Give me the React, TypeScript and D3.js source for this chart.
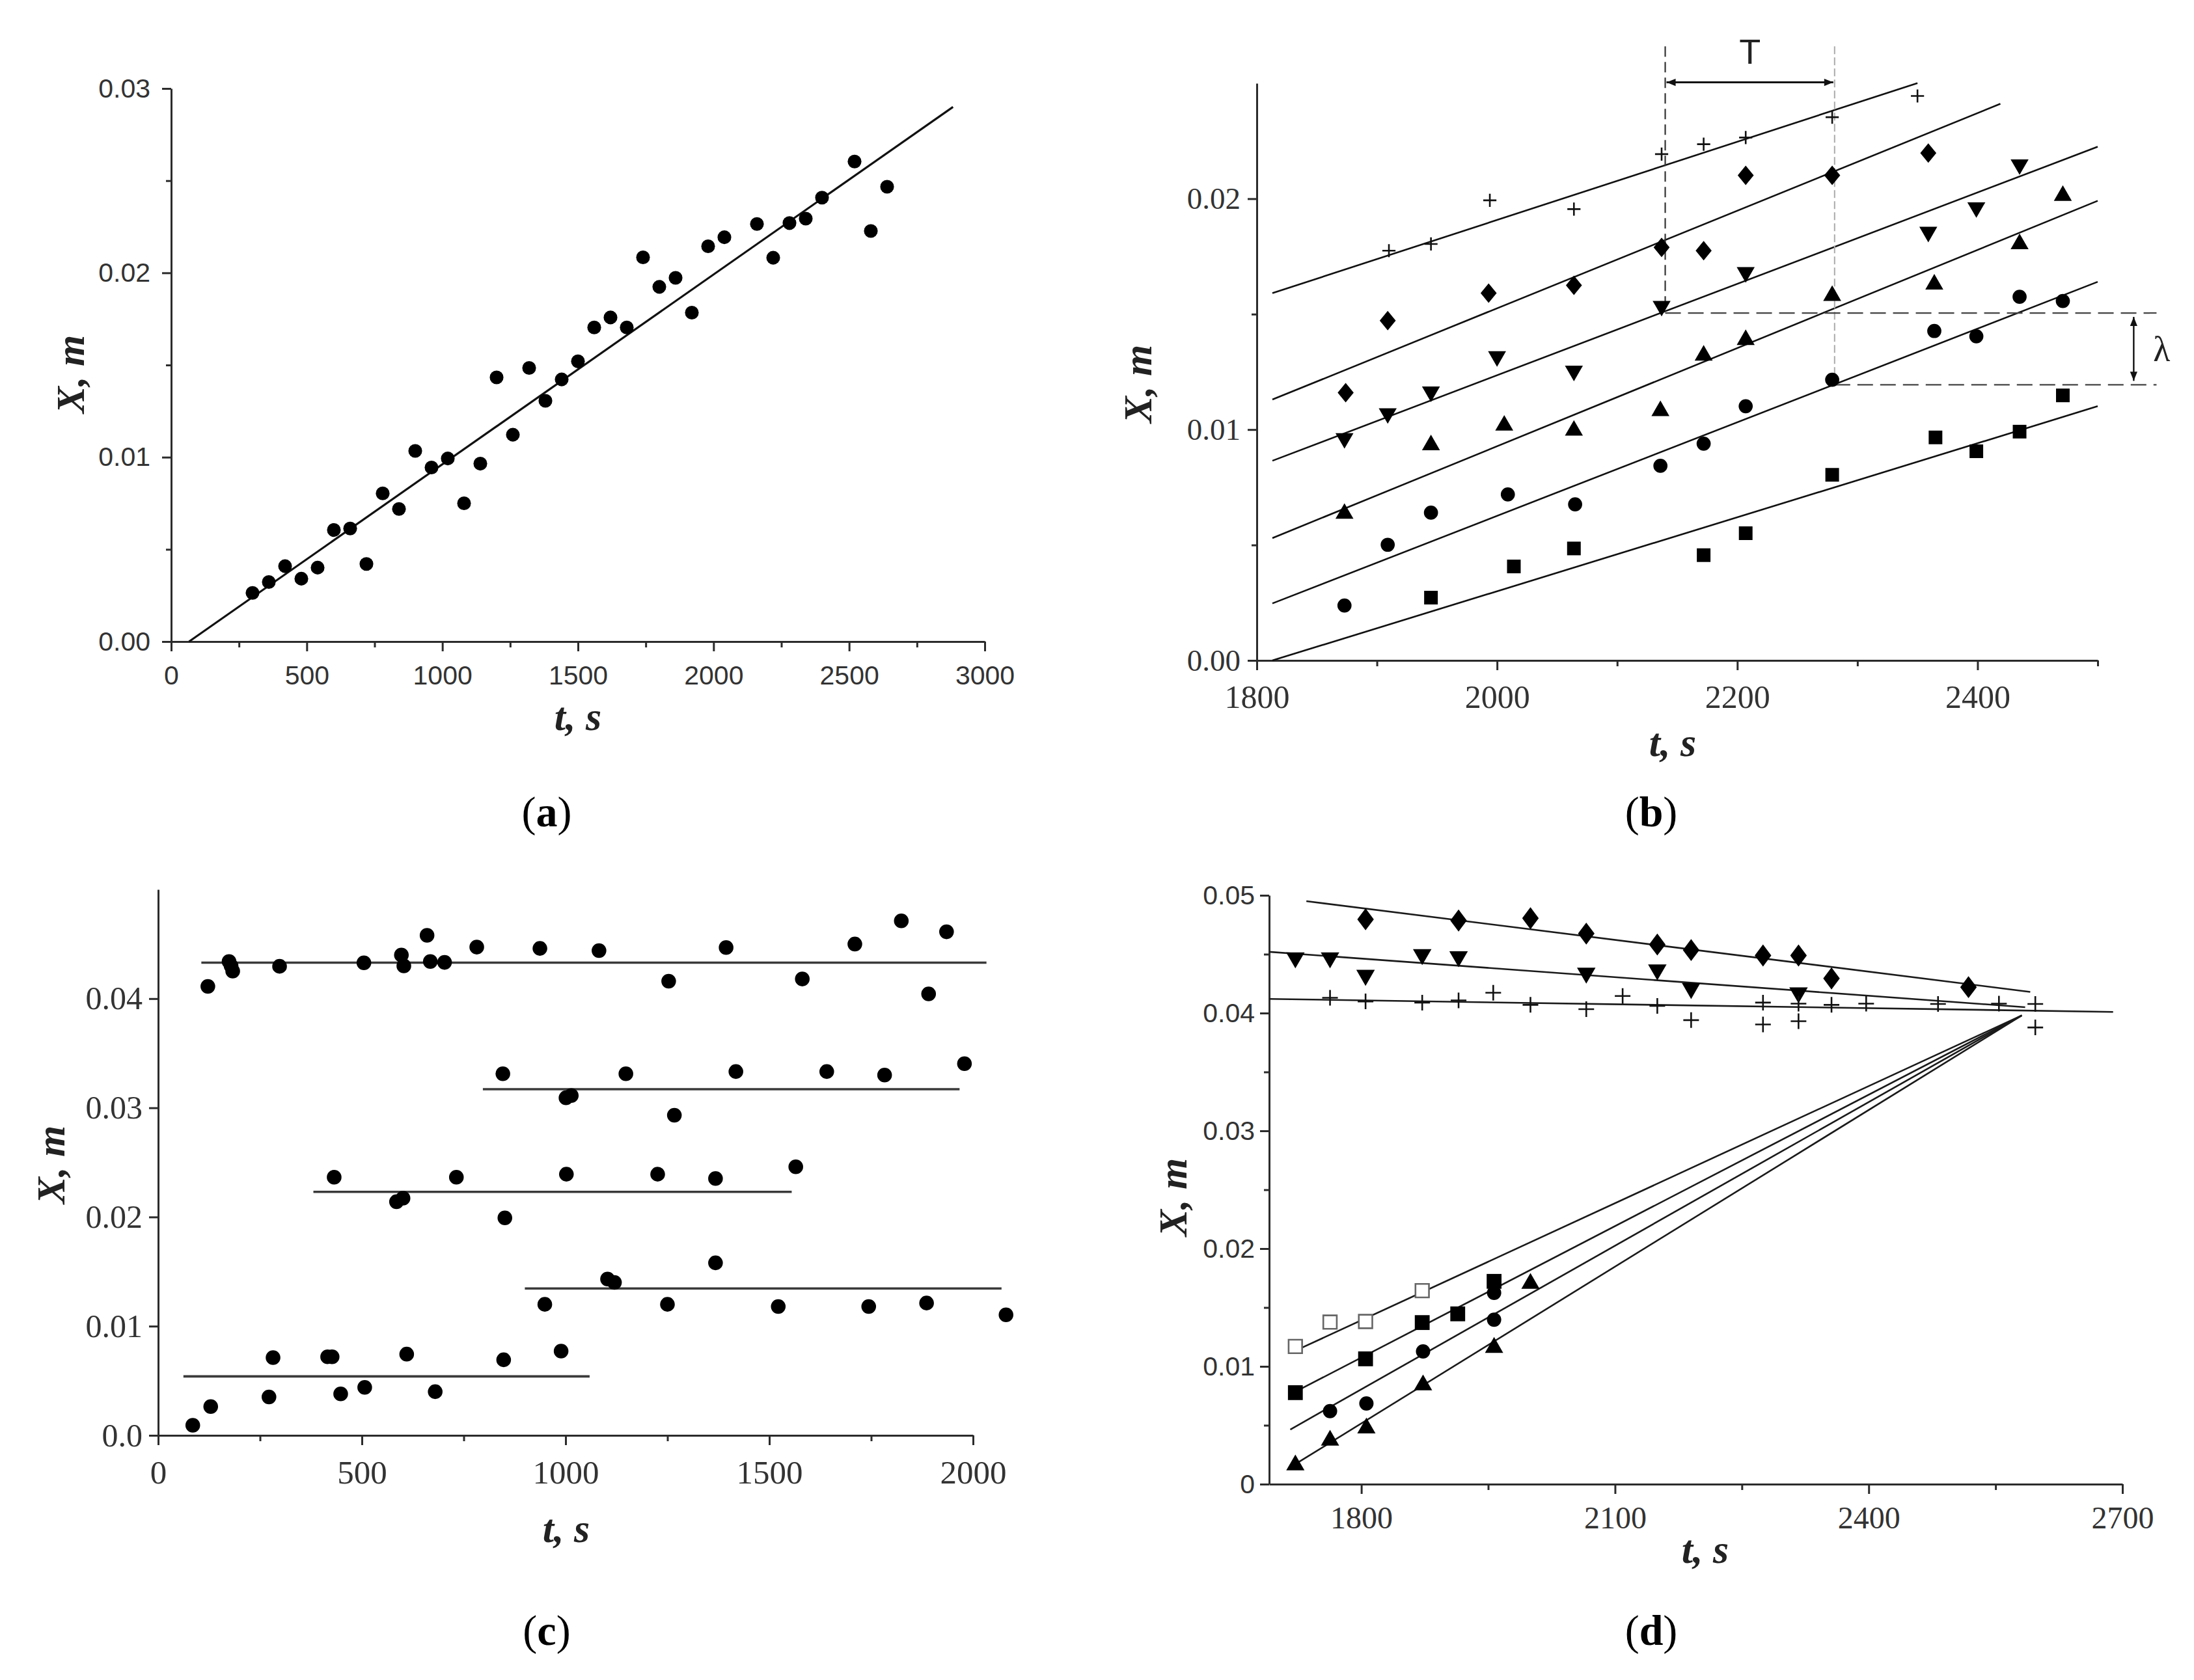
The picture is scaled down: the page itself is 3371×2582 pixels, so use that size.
import * as d3 from "d3";
import { useEffect, useRef } from "react";

const W = 3371;
const H = 2582;

// ---------- panel (a)
const aTime = [300, 360, 420, 480, 540, 600, 660, 720, 780, 840, 900, 960, 1020, 1080, 1140, 1200, 1260, 1320, 1380, 1440, 1500, 1560, 1620, 1680, 1740, 1800, 1860, 1920, 1980, 2040, 2160, 2220, 2280, 2340, 2400, 2520, 2580, 2640];
const aPos = [0.00264, 0.00323, 0.00409, 0.00341, 0.00401, 0.00605, 0.00613, 0.00421, 0.00804, 0.00719, 0.01034, 0.00944, 0.00993, 0.0075, 0.00965, 0.01433, 0.01122, 0.01484, 0.01306, 0.01422, 0.0152, 0.01704, 0.01758, 0.01704, 0.02084, 0.01924, 0.01973, 0.01784, 0.02144, 0.02193, 0.02265, 0.02082, 0.0227, 0.02294, 0.02408, 0.02604, 0.02227, 0.02467];
const aFitTime = [66, 2883];
const aFitPos = [0, 0.029];
const aXTicks = [0, 500, 1000, 1500, 2000, 2500, 3000];
const aXLabels = ["0", "500", "1000", "1500", "2000", "2500", "3000"];
const aXMinor = [250, 750, 1250, 1750, 2250, 2750];
const aYTicks = [0, 0.01, 0.02, 0.03];
const aYLabels = ["0.00", "0.01", "0.02", "0.03"];
const aYMinor = [0.005, 0.015, 0.025];

// ---------- panel (b)
const bPlusT = [1910, 1945, 1994, 2064, 2137, 2172, 2207, 2279, 2350];
const bPlusX = [0.01775, 0.01804, 0.01993, 0.01955, 0.02193, 0.02236, 0.02265, 0.02353, 0.02445];
const bDiamondT = [1874, 1909, 1993, 2064, 2137, 2172, 2207, 2279, 2359];
const bDiamondX = [0.0116, 0.01472, 0.01591, 0.01625, 0.01789, 0.01775, 0.02101, 0.02101, 0.02198];
const bDownT = [1873, 1909, 1945, 2000, 2064, 2137, 2207, 2359, 2399, 2435];
const bDownX = [0.00962, 0.0107, 0.01164, 0.01317, 0.01254, 0.01535, 0.01681, 0.01856, 0.01962, 0.02148];
const bUpT = [1873, 1945, 2006, 2064, 2136, 2172, 2207, 2279, 2364, 2435, 2471];
const bUpX = [0.00636, 0.00933, 0.01018, 0.00996, 0.01081, 0.01321, 0.01389, 0.0158, 0.01629, 0.01804, 0.02013];
const bCircleT = [1873, 1909, 1945, 2009, 2065, 2136, 2172, 2207, 2279, 2364, 2399, 2435, 2471];
const bCircleX = [0.00238, 0.00501, 0.0064, 0.00719, 0.00676, 0.00843, 0.00939, 0.01101, 0.01216, 0.01427, 0.01404, 0.01575, 0.01557];
const bSquareT = [1945, 2014, 2064, 2172, 2207, 2279, 2365, 2399, 2435, 2471];
const bSquareX = [0.00272, 0.00407, 0.00485, 0.00456, 0.00551, 0.00804, 0.00966, 0.00906, 0.00991, 0.01148];
const bFitT = [[1813, 2350], [1813, 2419], [1813, 2500], [1813, 2500], [1813, 2500], [1813, 2500]];
const bFitX = [[0.01591, 0.02501], [0.0113, 0.02411], [0.00865, 0.02225], [0.0053, 0.01991], [0.00247, 0.0164], [0, 0.01101]];
const bXTicks = [1800, 2000, 2200, 2400];
const bXLabels = ["1800", "2000", "2200", "2400"];
const bXMinor = [1900, 2100, 2300, 2500];
const bYTicks = [0, 0.01, 0.02];
const bYLabels = ["0.00", "0.01", "0.02"];
const bYMinor = [0.005, 0.015];
// period T and wavelength lambda marks
const bPeriodT = [2140, 2281];
const bPeriodTop = 0.0266;
const bPeriodArrow = 0.02504;
const bPeriodFoot = [0.0151, 0.012];
const bLambdaX = [0.01505, 0.01194];
const bLambdaT = 2530;
const bDashEnd = 2549;

// ---------- panel (c)
const cGroupT = [
  [122, 174, 179, 183, 298, 505, 597, 603, 660, 668, 703, 782, 937, 1082, 1253, 1394, 1581, 1710, 1824, 1891, 1935],
  [846, 1001, 1014, 1148, 1267, 1418, 1641, 1783, 1979],
  [432, 585, 601, 732, 851, 1002, 1226, 1368, 1565],
  [949, 1103, 1120, 1250, 1368, 1522, 1744, 1886, 2081],
  [85, 129, 272, 282, 416, 427, 448, 507, 610, 680, 848, 989],
];
const cGroupX = [
  [0.04112, 0.0434, 0.043, 0.04252, 0.04296, 0.04328, 0.044, 0.043, 0.0458, 0.0434, 0.04332, 0.04472, 0.0446, 0.0444, 0.0416, 0.04468, 0.0418, 0.045, 0.04712, 0.04044, 0.04612],
  [0.03312, 0.03092, 0.03112, 0.03312, 0.02932, 0.03332, 0.03332, 0.033, 0.03404],
  [0.02364, 0.0214, 0.02172, 0.02364, 0.01992, 0.02392, 0.02392, 0.02352, 0.0246],
  [0.012, 0.01432, 0.014, 0.012, 0.0158, 0.0118, 0.0118, 0.01212, 0.01104],
  [0.00092, 0.00264, 0.00352, 0.00712, 0.0072, 0.0072, 0.0038, 0.0044, 0.00744, 0.004, 0.00692, 0.00772],
];
const cLevelT = [[106, 2033], [797, 1967], [381, 1555], [900, 2070], [62, 1059]];
const cLevelX = [0.0433, 0.0317, 0.0223, 0.01345, 0.0054];
const cXTicks = [0, 500, 1000, 1500, 2000];
const cXLabels = ["0", "500", "1000", "1500", "2000"];
const cXMinor = [250, 750, 1250, 1750];
const cYTicks = [0, 0.01, 0.02, 0.03, 0.04];
const cYLabels = ["0.0", "0.01", "0.02", "0.03", "0.04"];

// ---------- panel (d)
const dDiamondT = [1805, 1915, 2000, 2066, 2150, 2190, 2275, 2317, 2356, 2518];
const dDiamondX = [0.04796, 0.04786, 0.04805, 0.04675, 0.04582, 0.04535, 0.04489, 0.04489, 0.04294, 0.0422];
const dDownT = [1722, 1763, 1805, 1872, 1915, 2066, 2150, 2190, 2317];
const dDownX = [0.0447, 0.0447, 0.04322, 0.04498, 0.0448, 0.0434, 0.04368, 0.0421, 0.04173];
const dPlusT = [1763, 1805, 1872, 1915, 1956, 2000, 2066, 2109, 2150, 2190, 2275, 2275, 2317, 2317, 2356, 2397, 2482, 2554, 2597, 2597];
const dPlusX = [0.0413, 0.04099, 0.04089, 0.04108, 0.04173, 0.0407, 0.04033, 0.04145, 0.04061, 0.0394, 0.04089, 0.03903, 0.0408, 0.03931, 0.0407, 0.0408, 0.04077, 0.0408, 0.04077, 0.03878];
const dOpenT = [1722, 1763, 1805, 1872];
const dOpenX = [0.01169, 0.01376, 0.01381, 0.01643];
const dSquareT = [1722, 1805, 1872, 1914, 1957];
const dSquareX = [0.00777, 0.01064, 0.01372, 0.01446, 0.01722];
const dCircleT = [1763, 1806, 1873, 1957, 1957];
const dCircleX = [0.0062, 0.00685, 0.01127, 0.01396, 0.01624];
const dUpT = [1722, 1763, 1806, 1873, 1957, 2000];
const dUpX = [0.00162, 0.00372, 0.00475, 0.00842, 0.0116, 0.01704];
const dFitT = [[1735, 2591], [1691, 2585], [1691, 2689], [1722, 2581], [1728, 2581], [1716, 2581], [1722, 2581]];
const dFitX = [[0.0495, 0.0418], [0.0452, 0.0405], [0.0412, 0.0401], [0.01133, 0.0398], [0.00807, 0.0398], [0.00464, 0.0398], [0.0017, 0.0398]];
const dXTicks = [1800, 2100, 2400, 2700];
const dXLabels = ["1800", "2100", "2400", "2700"];
const dXMinor = [1950, 2250, 2550];
const dYTicks = [0, 0.01, 0.02, 0.03, 0.04, 0.05];
const dYLabels = ["0", "0.01", "0.02", "0.03", "0.04", "0.05"];
const dYMinor = [0.005, 0.015, 0.025, 0.035, 0.045];

const captions = ["a", "b", "c", "d"];

const SERIF = "'Liberation Serif','Times New Roman',serif";
const SANS = "'Liberation Sans',Arial,sans-serif";

// diamond marker, a bit taller than wide like the original ones
function makeDiamond(ratio: number) {
  return {
    draw(ctx: any, size: number) {
      const h = Math.sqrt(size / (2 * ratio));
      const w = h * ratio;
      ctx.moveTo(0, -h);
      ctx.lineTo(w, 0);
      ctx.lineTo(0, h);
      ctx.lineTo(-w, 0);
      ctx.closePath();
    },
  };
}

function axes(g: any, x: any, y: any, o: any) {
  const bottom = y.range()[0];
  const left = x.range()[0];
  const gx = g.append("g").attr("transform", `translate(0,${bottom})`)
    .call(d3.axisBottom(x).tickValues(o.xTicks).tickFormat((_: any, i: number) => o.xLabels[i])
      .tickSizeInner(15).tickSizeOuter(0).tickPadding(o.xPad));
  const gy = g.append("g").attr("transform", `translate(${left},0)`)
    .call(d3.axisLeft(y).tickValues(o.yTicks).tickFormat((_: any, i: number) => o.yLabels[i])
      .tickSizeInner(14).tickSizeOuter(0).tickPadding(o.yPad));
  if (o.xMinor) {
    g.append("g").attr("transform", `translate(0,${bottom})`)
      .call(d3.axisBottom(x).tickValues(o.xMinor).tickFormat(() => "").tickSizeInner(9).tickSizeOuter(0))
      .call((s: any) => s.select(".domain").remove());
  }
  if (o.yMinor) {
    g.append("g").attr("transform", `translate(${left},0)`)
      .call(d3.axisLeft(y).tickValues(o.yMinor).tickFormat(() => "").tickSizeInner(8).tickSizeOuter(0))
      .call((s: any) => s.select(".domain").remove());
  }
  g.selectAll(".domain, .tick line").attr("stroke", "#2b2b2b").attr("stroke-width", 3);
  gx.selectAll("text").attr("font-family", o.xFont).attr("font-size", o.xSize).attr("fill", "#333");
  gy.selectAll("text").attr("font-family", o.yFont).attr("font-size", o.ySize).attr("fill", "#333");
}

function titles(g: any, tPos: number[], xPos: number[]) {
  g.append("text").attr("x", tPos[0]).attr("y", tPos[1]).attr("dy", "0.35em")
    .attr("text-anchor", "middle").attr("font-family", SERIF).attr("font-size", 62)
    .attr("font-weight", "bold").attr("font-style", "italic").attr("fill", "#222").text("t, s");
  g.append("text").attr("transform", `translate(${xPos[0]},${xPos[1]}) rotate(-90)`).attr("dy", "0.35em")
    .attr("text-anchor", "middle").attr("font-family", SERIF).attr("font-size", 62)
    .attr("font-weight", "bold").attr("font-style", "italic").attr("fill", "#222").text("X, m");
}

function fitLine(g: any, x: any, y: any, ts: number[], xs: number[], stroke: string, sw: number) {
  g.append("path").datum(d3.zip(ts, xs))
    .attr("d", d3.line().x((d: any) => x(d[0])).y((d: any) => y(d[1])))
    .attr("fill", "none").attr("stroke", stroke).attr("stroke-width", sw);
}

function scatter(g: any, x: any, y: any, ts: number[], xs: number[], type: any, size: number, o: any = {}) {
  const sym = d3.symbol().type(type).size(size);
  g.append("g").selectAll("path").data(d3.zip(ts, xs)).join("path")
    .attr("d", () => sym())
    .attr("transform", (d: any) => `translate(${x(d[0])},${y(d[1])})${o.flip ? " rotate(180)" : ""}`)
    .attr("fill", o.fill ?? "#000")
    .attr("stroke", o.stroke ?? "none")
    .attr("stroke-width", o.sw ?? 0);
}

function caption(svg: any, cx: number, cy: number, letter: string) {
  const t = svg.append("text").attr("x", cx).attr("y", cy).attr("text-anchor", "middle")
    .attr("font-family", SERIF).attr("font-size", 66).attr("fill", "#000");
  t.append("tspan").text("(");
  t.append("tspan").attr("font-weight", "bold").text(letter);
  t.append("tspan").text(")");
}

export default function App() {
  const ref = useRef<SVGSVGElement>(null);

  useEffect(() => {
    const svg = d3.select(ref.current);
    svg.selectAll("*").remove();
    svg.append("rect").attr("width", W).attr("height", H).attr("fill", "#fff");

    const defs = svg.append("defs");
    defs.append("marker").attr("id", "arr").attr("viewBox", "0 0 10 10")
      .attr("refX", 10).attr("refY", 5).attr("markerWidth", 26).attr("markerHeight", 14)
      .attr("markerUnits", "userSpaceOnUse").attr("orient", "auto-start-reverse")
      .append("path").attr("d", "M0,1 L10,5 L0,9 z").attr("fill", "#111");

    // ----- (a)
    {
      const g = svg.append("g");
      const x = d3.scaleLinear().domain([0, 3000]).range([263, 1513]);
      const y = d3.scaleLinear().domain([0, 0.03]).range([986, 136]);
      axes(g, x, y, {
        xTicks: aXTicks, xLabels: aXLabels, xMinor: aXMinor, yTicks: aYTicks, yLabels: aYLabels, yMinor: aYMinor,
        xFont: SANS, xSize: 41, yFont: SANS, ySize: 41, xPad: 22, yPad: 18,
      });
      fitLine(g, x, y, aFitTime, aFitPos, "#111", 3.2);
      scatter(g, x, y, aTime, aPos, d3.symbolCircle, 350);
      titles(g, [888, 1100], [107, 575]);
    }

    // ----- (b)
    {
      const g = svg.append("g");
      const x = d3.scaleLinear().domain([1800, 2500]).range([1931, 3223]);
      const y = d3.scaleLinear().domain([0, 0.025]).range([1015, 128]);
      axes(g, x, y, {
        xTicks: bXTicks, xLabels: bXLabels, xMinor: bXMinor, yTicks: bYTicks, yLabels: bYLabels, yMinor: bYMinor,
        xFont: SERIF, xSize: 50, yFont: SERIF, ySize: 47, xPad: 22, yPad: 11,
      });
      bFitT.forEach((ts, i) => fitLine(g, x, y, ts, bFitX[i], "#111", 2.6));

      // period / wavelength construction lines
      g.append("line").attr("x1", x(bPeriodT[0])).attr("x2", x(bPeriodT[0]))
        .attr("y1", y(bPeriodTop)).attr("y2", y(bPeriodFoot[0]))
        .attr("stroke", "#333").attr("stroke-width", 2.2).attr("stroke-dasharray", "16 8");
      g.append("line").attr("x1", x(bPeriodT[1])).attr("x2", x(bPeriodT[1]))
        .attr("y1", y(bPeriodTop)).attr("y2", y(bPeriodFoot[1]))
        .attr("stroke", "#aaa").attr("stroke-width", 2).attr("stroke-dasharray", "12 5");
      g.append("line").attr("x1", x(bPeriodT[0]) + 2).attr("x2", x(bPeriodT[1]) - 2)
        .attr("y1", y(bPeriodArrow)).attr("y2", y(bPeriodArrow))
        .attr("stroke", "#111").attr("stroke-width", 3)
        .attr("marker-start", "url(#arr)").attr("marker-end", "url(#arr)");
      g.append("text").attr("x", x((bPeriodT[0] + bPeriodT[1]) / 2)).attr("y", y(bPeriodTop) + 8)
        .attr("text-anchor", "middle").attr("dy", "0.35em").attr("font-family", SANS)
        .attr("font-size", 54).attr("fill", "#222").text("T");
      g.append("line").attr("x1", x(bPeriodT[0])).attr("x2", x(bDashEnd))
        .attr("y1", y(bLambdaX[0])).attr("y2", y(bLambdaX[0]))
        .attr("stroke", "#444").attr("stroke-width", 2.2).attr("stroke-dasharray", "24 11");
      g.append("line").attr("x1", x(bPeriodT[1])).attr("x2", x(bDashEnd))
        .attr("y1", y(bLambdaX[1])).attr("y2", y(bLambdaX[1]))
        .attr("stroke", "#444").attr("stroke-width", 2.2).attr("stroke-dasharray", "24 11");
      g.append("line").attr("x1", x(bLambdaT)).attr("x2", x(bLambdaT))
        .attr("y1", y(bLambdaX[0]) + 6).attr("y2", y(bLambdaX[1]) - 6)
        .attr("stroke", "#111").attr("stroke-width", 2.4)
        .attr("marker-start", "url(#arr)").attr("marker-end", "url(#arr)");
      g.append("text").attr("x", x(bDashEnd) + 8).attr("y", y((bLambdaX[0] + bLambdaX[1]) / 2))
        .attr("text-anchor", "middle").attr("dy", "0.35em").attr("font-family", SERIF)
        .attr("font-size", 54).attr("fill", "#222").text("λ");

      scatter(g, x, y, bPlusT, bPlusX, d3.symbolPlus, 135, { fill: "none", stroke: "#111", sw: 2.6 });
      scatter(g, x, y, bDiamondT, bDiamondX, makeDiamond(0.82), 370);
      scatter(g, x, y, bDownT, bDownX, d3.symbolTriangle, 330, { flip: true });
      scatter(g, x, y, bUpT, bUpX, d3.symbolTriangle, 330);
      scatter(g, x, y, bCircleT, bCircleX, d3.symbolCircle, 370);
      scatter(g, x, y, bSquareT, bSquareX, d3.symbolSquare, 440);
      titles(g, [2570, 1140], [1747, 590]);
    }

    // ----- (c)
    {
      const g = svg.append("g");
      const x = d3.scaleLinear().domain([0, 2000]).range([243, 1495]);
      const y = d3.scaleLinear().domain([0, 0.05]).range([2206, 1367]);
      axes(g, x, y, {
        xTicks: cXTicks, xLabels: cXLabels, xMinor: cXMinor, yTicks: cYTicks, yLabels: cYLabels,
        xFont: SERIF, xSize: 51, yFont: SERIF, ySize: 50, xPad: 23, yPad: 10,
      });
      cLevelT.forEach((ts, i) => fitLine(g, x, y, ts, [cLevelX[i], cLevelX[i]], "#3a3a3a", 3.6));
      cGroupT.forEach((ts, i) => scatter(g, x, y, ts, cGroupX[i], d3.symbolCircle, 400));
      titles(g, [870, 2348], [77, 1790]);
    }

    // ----- (d)
    {
      const g = svg.append("g");
      const x = d3.scaleLinear().domain([1691, 2700]).range([1950, 3261]);
      const y = d3.scaleLinear().domain([0, 0.05]).range([2281, 1376]);
      axes(g, x, y, {
        xTicks: dXTicks, xLabels: dXLabels, xMinor: dXMinor, yTicks: dYTicks, yLabels: dYLabels, yMinor: dYMinor,
        xFont: SERIF, xSize: 48, yFont: SANS, ySize: 41, xPad: 19, yPad: 8,
      });
      dFitT.forEach((ts, i) => fitLine(g, x, y, ts, dFitX[i], "#1a1a1a", 2.6));
      scatter(g, x, y, dDiamondT, dDiamondX, makeDiamond(0.75), 430);
      scatter(g, x, y, dDownT, dDownX, d3.symbolTriangle, 350, { flip: true });
      scatter(g, x, y, dPlusT, dPlusX, d3.symbolPlus, 190, { fill: "none", stroke: "#111", sw: 2.6 });
      scatter(g, x, y, dOpenT, dOpenX, d3.symbolSquare, 430, { fill: "#fff", stroke: "#666", sw: 2.6 });
      scatter(g, x, y, dSquareT, dSquareX, d3.symbolSquare, 520);
      scatter(g, x, y, dCircleT, dCircleX, d3.symbolCircle, 380);
      scatter(g, x, y, dUpT, dUpX, d3.symbolTriangle, 340);
      titles(g, [2620, 2380], [1801, 1840]);
    }

    caption(svg, 840, 1270, captions[0]);
    caption(svg, 2537, 1270, captions[1]);
    caption(svg, 840, 2528, captions[2]);
    caption(svg, 2537, 2528, captions[3]);
  }, []);

  return (
    <svg
      ref={ref}
      width={W}
      height={H}
      viewBox={`0 0 ${W} ${H}`}
      style={{ position: "absolute", left: 0, top: 0, display: "block" }}
    />
  );
}
